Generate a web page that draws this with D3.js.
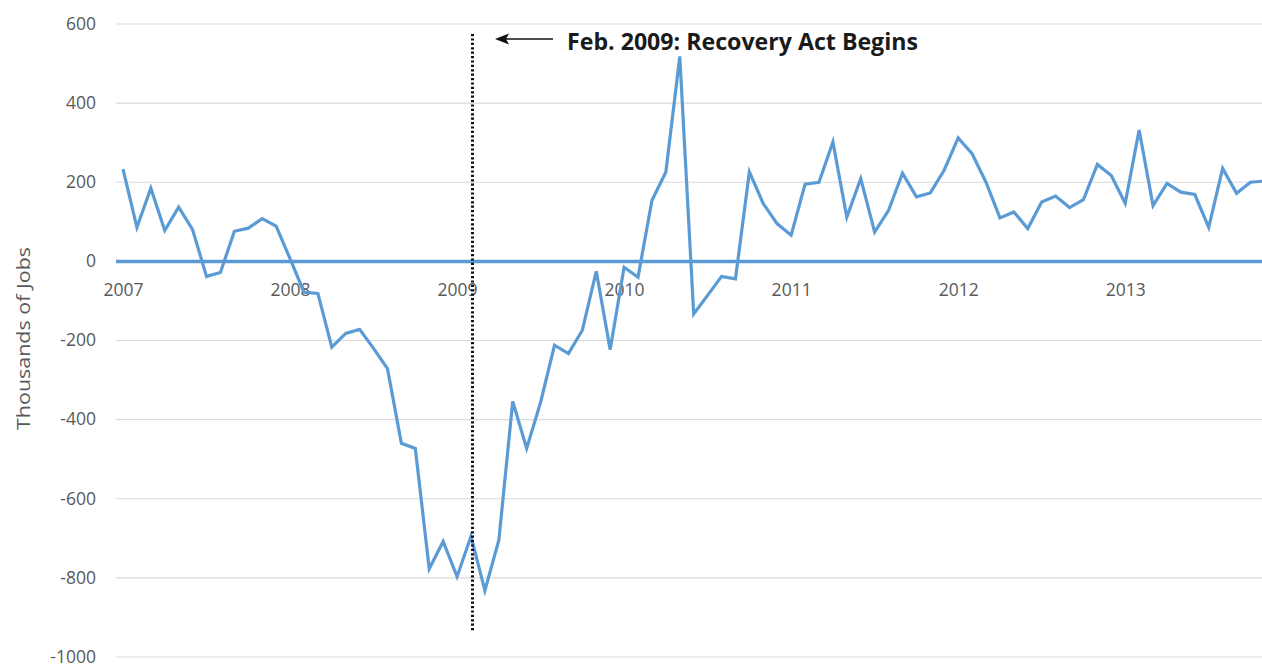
<!DOCTYPE html>
<html>
<head>
<meta charset="utf-8">
<script src="https://cdn.jsdelivr.net/npm/d3@7"></script>
<style>
  body { margin: 0; background: #fff; overflow: hidden; }
  svg { display: block; font-family: "Open Sans", "Liberation Sans", sans-serif; }
</style>
</head>
<body>
<div id="main"></div>
<script>
const W = 1262;
const H = 664;

// monthly change in payroll jobs, thousands, Jan 2007 onward
var jobs = [
  233, 86, 185, 78, 137, 80, -38, -28, 76, 84, 108, 89,
  7, -78, -81, -217, -182, -172, -220, -271, -460, -473, -777, -708,
  -797, -695, -832, -705, -354, -473, -356, -212, -233, -174, -25, -223,
  -15, -40, 154, 226, 518, -133, -86, -38, -44, 226, 146, 95,
  66, 195, 200, 302, 112, 209, 74, 129, 223, 163, 173, 231,
  312, 272, 200, 110, 125, 83, 150, 165, 136, 156, 245, 217,
  147, 332, 141, 197, 175, 169, 86, 235, 172, 200, 203
];
var yearLabels = ["2007", "2008", "2009", "2010", "2011", "2012", "2013"];
var yTicks = [600, 400, 200, 0, -200, -400, -600, -800, -1000];
var markIndex = 25; // Feb. 2009
var markText = "Feb. 2009: Recovery Act Begins";

var ctx = {
    lineColor: "#5B9BD5",
    gridColor: "#D9D9D9",
    labelColor: "#595959",
};

var createViz = function(){
    var svgEl = d3.select("#main").append("svg")
        .attr("width", W)
        .attr("height", H);

    var x = d3.scaleLinear().domain([0, 82]).range([123, 1264.4]);
    var y = d3.scaleLinear().domain([-1000, 600]).range([657, 24]);
    var left = x(-0.5);
    var right = x(jobs.length - 0.5);

    // grid
    svgEl.append("g")
        .selectAll("line")
        .data(yTicks.filter(function(d){ return d !== 0; }))
        .enter()
        .append("line")
        .attr("x1", left).attr("x2", right)
        .attr("y1", function(d){ return y(d); })
        .attr("y2", function(d){ return y(d); })
        .style("stroke", ctx.gridColor)
        .style("stroke-width", 1.2);

    // y axis labels
    var yAxis = d3.axisLeft(y).tickValues(yTicks)
        .tickFormat(function(d){ return String(d); })
        .tickSize(0).tickPadding(0);
    var yg = svgEl.append("g")
        .attr("transform", "translate(96,0)")
        .call(yAxis);
    yg.select(".domain").remove();
    yg.selectAll("text")
        .style("font-size", "17.5px")
        .style("fill", ctx.labelColor)
        .attr("dy", "0.3em")
        .attr("font-family", "'Open Sans', sans-serif");

    // x axis labels (years, under January)
    var xAxis = d3.axisBottom(x)
        .tickValues(d3.range(0, yearLabels.length * 12, 12))
        .tickFormat(function(d){ return yearLabels[d / 12]; })
        .tickSize(0).tickPadding(0);
    var xg = svgEl.append("g")
        .attr("transform", "translate(0,284)")
        .call(xAxis);
    xg.select(".domain").remove();
    xg.selectAll("text")
        .style("font-size", "17.5px")
        .style("fill", ctx.labelColor)
        .attr("font-family", "'Open Sans', sans-serif");

    // y title
    svgEl.append("text")
        .attr("transform", "translate(30,338.5) rotate(-90)")
        .attr("text-anchor", "middle")
        .style("font-size", "19px")
        .style("fill", ctx.labelColor)
        .attr("textLength", 183)
        .attr("lengthAdjust", "spacingAndGlyphs")
        .text("Thousands of Jobs");

    // zero axis line
    svgEl.append("line")
        .attr("x1", left).attr("x2", right)
        .attr("y1", y(0)).attr("y2", y(0))
        .style("stroke", ctx.lineColor)
        .style("stroke-width", 3.5);

    // data line
    var line = d3.line()
        .x(function(d, i){ return x(i); })
        .y(function(d){ return y(d); });
    svgEl.append("path")
        .datum(jobs)
        .attr("d", line)
        .style("fill", "none")
        .style("stroke", ctx.lineColor)
        .style("stroke-width", 3.2)
        .style("stroke-linejoin", "miter");

    // recovery act marker
    var mx = x(markIndex) + 1.5;
    svgEl.append("line")
        .attr("x1", mx).attr("x2", mx)
        .attr("y1", 34).attr("y2", 632)
        .style("stroke", "#111")
        .style("stroke-width", 3)
        .style("stroke-dasharray", "2.2,2.2");

    // arrow pointing back to the marker
    svgEl.append("line")
        .attr("x1", 553).attr("x2", 505)
        .attr("y1", 39).attr("y2", 39)
        .style("stroke", "#111")
        .style("stroke-width", 1.6);
    svgEl.append("path")
        .attr("d", "M495,39 L509,33.5 L506,39 L509,44.5 Z")
        .style("fill", "#111");

    svgEl.append("text")
        .attr("x", 567).attr("y", 49.5)
        .style("font-size", "23px")
        .style("font-weight", "bold")
        .style("fill", "#1a1a1a")
        .attr("textLength", 351)
        .attr("lengthAdjust", "spacingAndGlyphs")
        .text(markText);
};

createViz();
</script>
</body>
</html>
